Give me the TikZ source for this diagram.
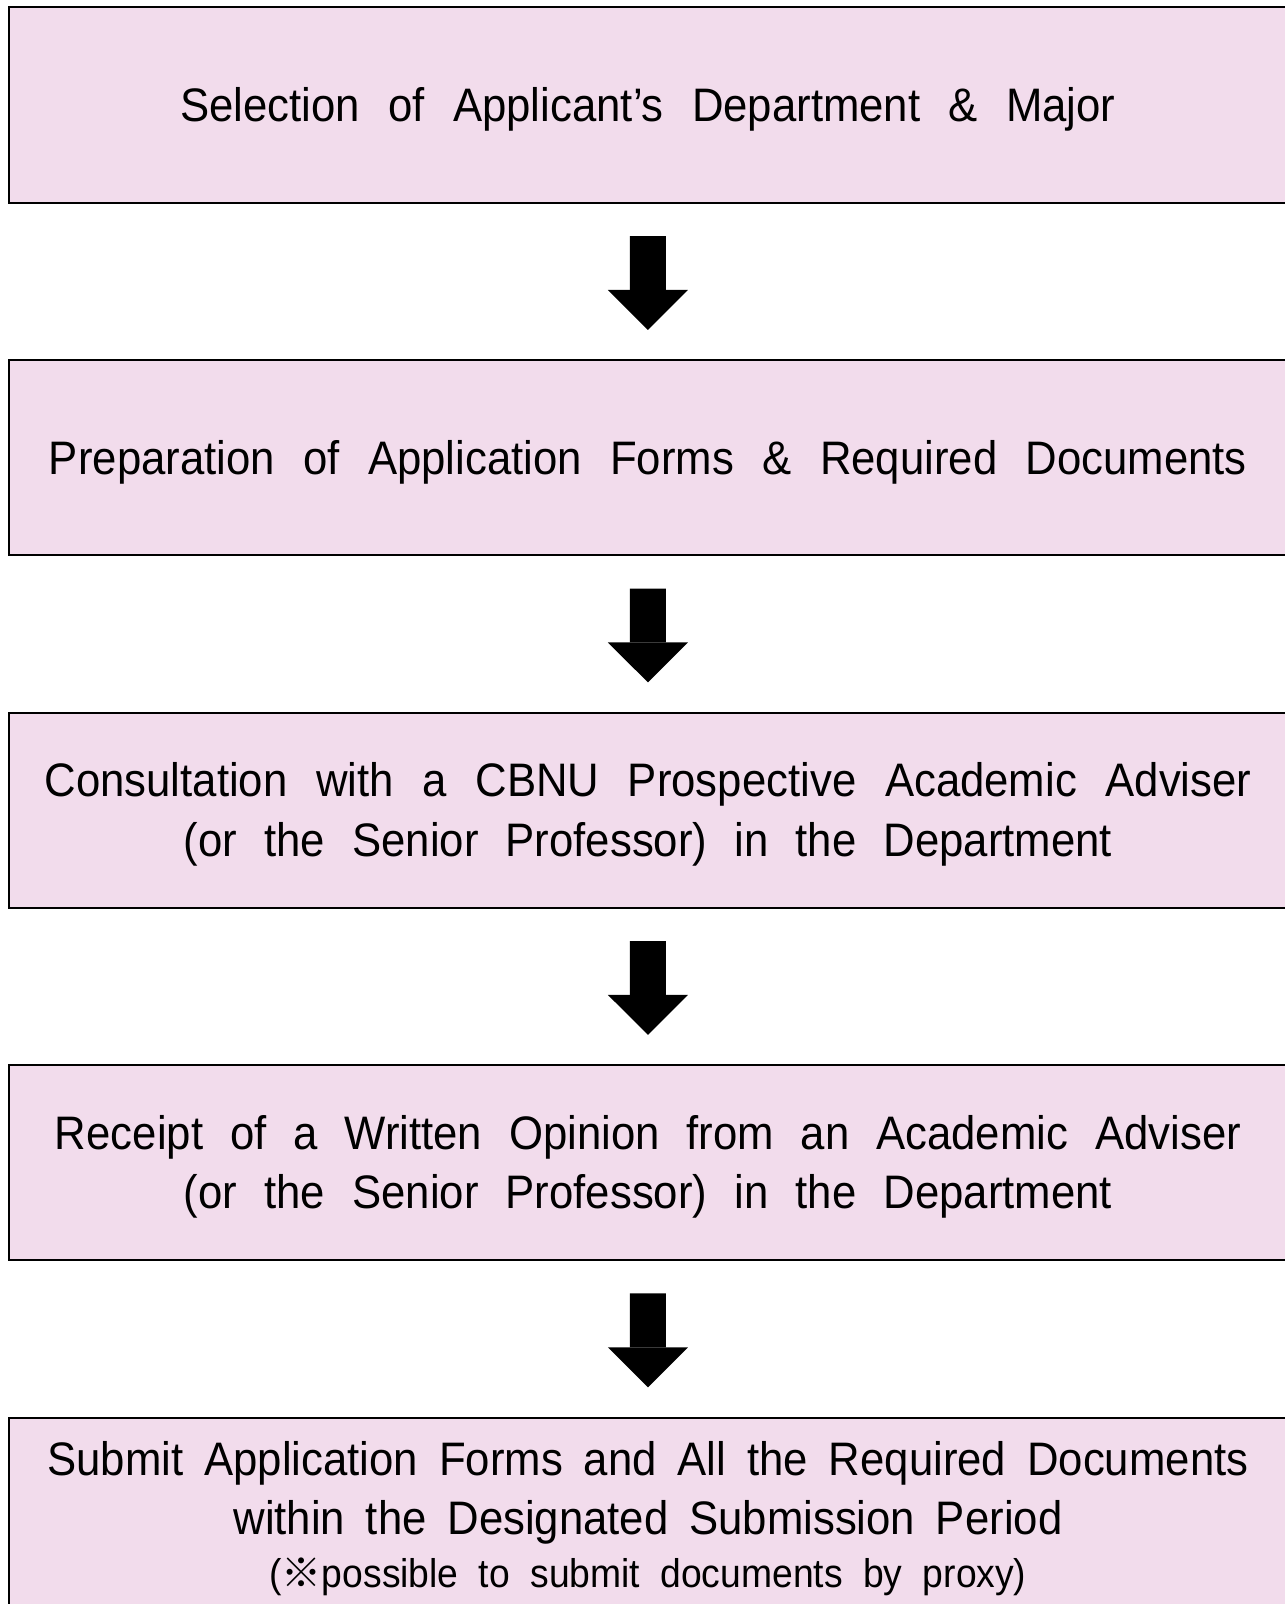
\documentclass[tikz,border=0pt]{standalone}
\usepackage{fontspec}
\setmainfont{Liberation Sans}[FakeStretch=0.93]
\newfontfamily\cjk{Noto Sans CJK JP}
\usetikzlibrary{arrows.meta}
\definecolor{boxpink}{RGB}{242,220,236}

\begin{document}
\begin{tikzpicture}[scale=0.2]
	\tikzstyle{every node}+=[inner sep=0pt]
	\tikzstyle{stepbox}=[draw=black, line width=0.4mm, fill=boxpink, minimum width=255.6mm, minimum height=39mm, align=center, text depth=0.6pt, font=\fontsize{26.75}{33.6}\selectfont]
	\tikzstyle{flow}=[line width=7.2mm, -{Triangle[width=16mm,length=8mm,line width=0pt]}, shorten <=6.5mm, shorten >=5.8mm]
	\useasboundingbox (0,0) rectangle (128.4,-160.4);
	\node [stepbox] (select) at (64.8,-10.5) {\makebox[187mm][s]{Selection of Applicant’s Department \& Major}};
	\node [stepbox] (prepare) at (64.8,-45.75) {\makebox[239.6mm][s]{Preparation of Application Forms \& Required Documents}};
	\node [stepbox] (consult) at (64.8,-81) {\makebox[241.4mm][s]{Consultation with a CBNU Prospective Academic Adviser}\\
		\makebox[185.6mm][s]{(or the Senior Professor) in the Department}};
	\node [stepbox] (opinion) at (64.8,-116.25) {\makebox[237.2mm][s]{Receipt of a Written Opinion from an Academic Adviser}\\
		\makebox[185.6mm][s]{(or the Senior Professor) in the Department}};
	\node [stepbox] (submit) at (64.8,-151.5) {\makebox[240.2mm][s]{Submit Application Forms and All the Required Documents}\\
		\makebox[165.8mm][s]{within the Designated Submission Period}\\[-3pt]
		{\fontsize{22.8}{30.6}\selectfont\makebox[151.4mm][s]{({\cjk ※}possible to submit documents by proxy)}}};
	% arrows between the steps
	\draw [flow] (select) -- (prepare);
	\draw [flow] (prepare) -- (consult);
	\draw [flow] (consult) -- (opinion);
	\draw [flow] (opinion) -- (submit);
\end{tikzpicture}
\end{document}
